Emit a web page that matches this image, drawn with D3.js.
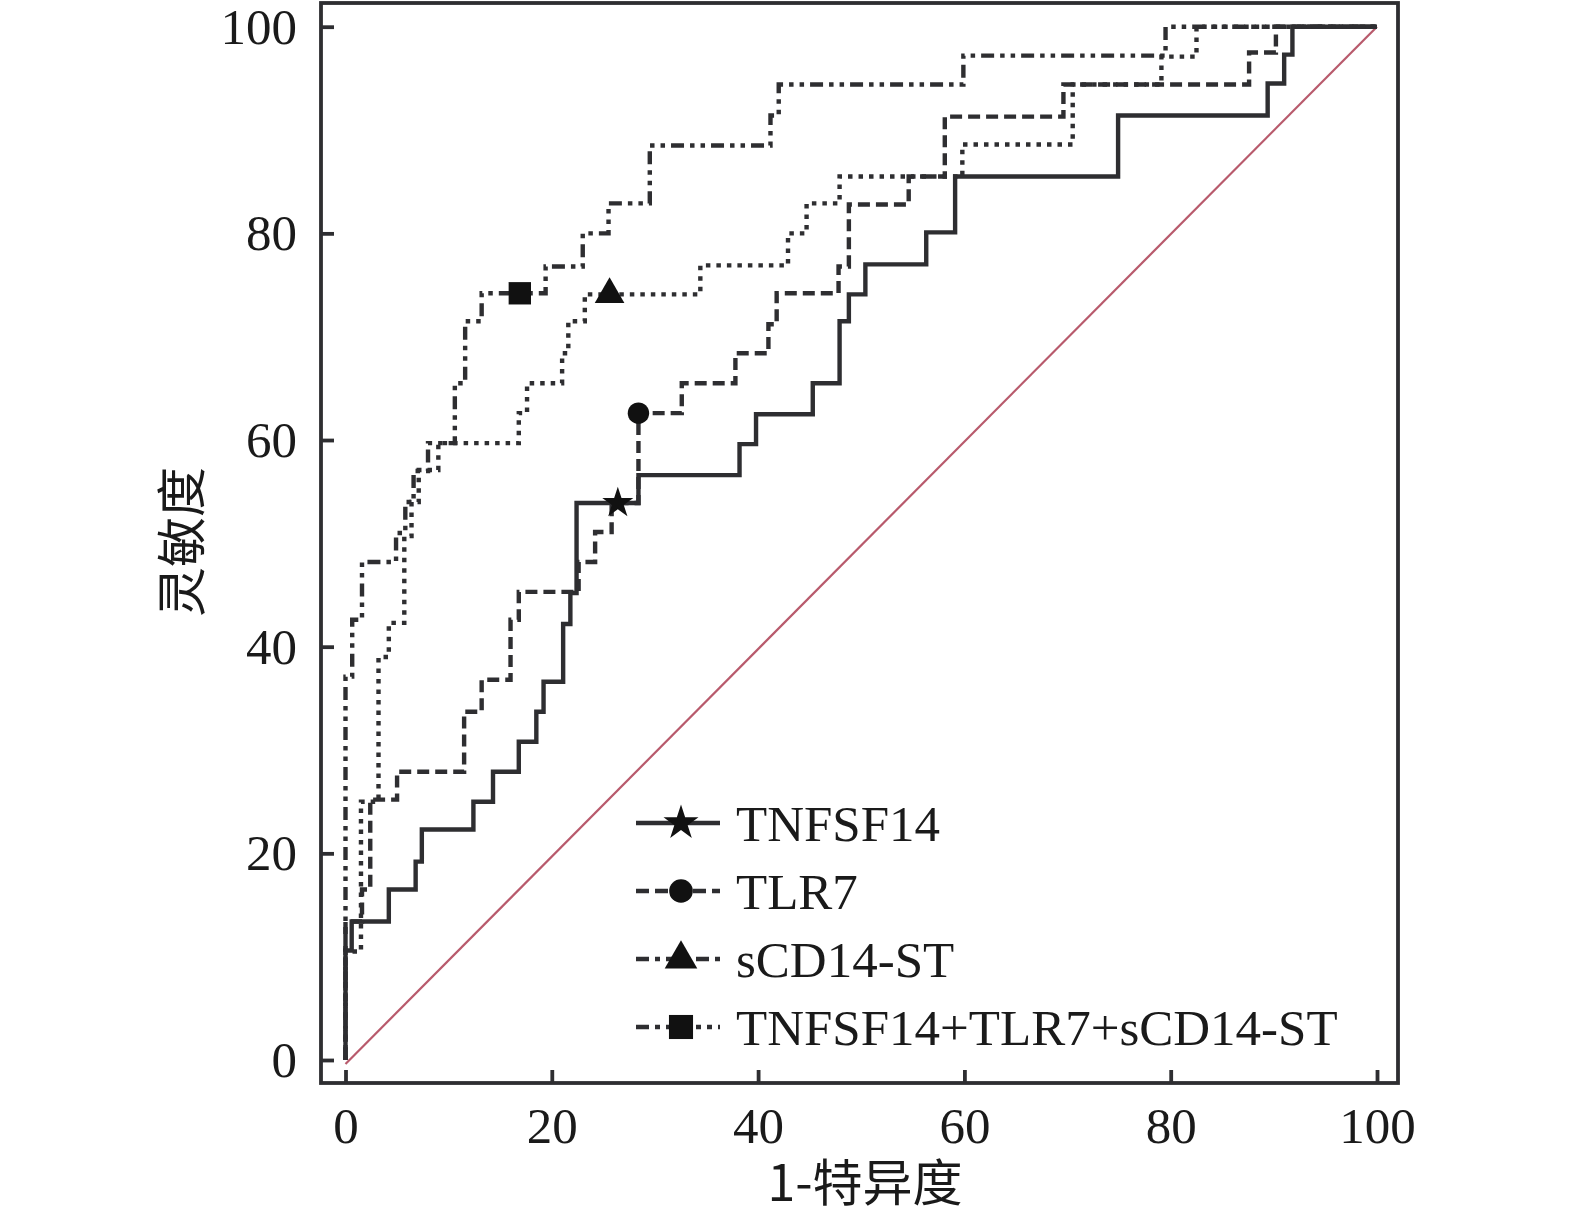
<!DOCTYPE html>
<html>
<head>
<meta charset="utf-8">
<script src="https://cdn.jsdelivr.net/npm/d3@7"></script>
<style>
  body { margin: 0; background: #fff; }
  svg { display: block; }
</style>
</head>
<body>
<div id="app"></div>
<script>
// ROC step curves: each point is the top of a vertical step (curveStepAfter)
const tickValues = [0, 20, 40, 60, 80, 100];
const seriesNames = ["TNFSF14", "TLR7", "sCD14-ST", "TNFSF14+TLR7+sCD14-ST"];

const tnfFpr = [0, 0, 0.6, 4.2, 6.8, 7.4, 12.4, 14.3, 16.8, 18.5, 19.2, 21.1, 21.8, 22.4, 28.4, 38.2, 39.8, 45.3, 47.9, 48.8, 50.4, 56.3, 59.1, 74.9, 89.4, 91.0, 91.8, 100];
const tnfTpr = [0, 10.6, 13.4, 16.5, 19.2, 22.3, 25.0, 27.9, 30.8, 33.7, 36.6, 42.2, 45.2, 53.9, 56.6, 59.6, 62.5, 65.5, 71.5, 74.1, 77.0, 80.1, 85.5, 91.4, 94.5, 97.3, 100, 100];

const tlrFpr = [0, 0, 1.6, 2.4, 5.0, 11.5, 13.2, 16.0, 16.8, 22.6, 24.2, 25.8, 28.4, 32.6, 37.8, 41.0, 41.8, 47.8, 48.8, 54.6, 58.1, 69.6, 87.6, 90.2, 100];
const tlrTpr = [0, 13.4, 16.5, 25.2, 27.9, 33.7, 36.8, 42.6, 45.3, 48.2, 51.1, 53.9, 62.6, 65.5, 68.4, 71.2, 74.2, 76.8, 82.8, 85.5, 91.3, 94.4, 97.5, 100, 100];

const scdFpr = [0, 0, 1.5, 3.2, 4.2, 5.7, 6.4, 7.1, 9.0, 16.8, 17.6, 21.0, 21.6, 23.2, 34.4, 42.9, 44.7, 47.9, 59.8, 70.5, 79.1, 82.5, 100];
const scdTpr = [0, 10.5, 25.0, 39.0, 42.3, 50.7, 54.0, 57.1, 59.7, 62.6, 65.5, 68.4, 71.5, 74.1, 76.9, 80.0, 82.9, 85.5, 88.6, 94.4, 97.1, 100, 100];

const comboFpr = [0, 0, 0.65, 1.6, 4.9, 5.8, 6.6, 8.0, 10.6, 11.6, 13.2, 19.4, 23.0, 25.5, 29.5, 41.2, 42.0, 59.9, 79.5, 100];
const comboTpr = [0, 37.1, 42.6, 48.2, 51.0, 54.0, 57.0, 59.7, 65.5, 71.5, 74.2, 76.8, 80.0, 82.9, 88.5, 91.4, 94.4, 97.2, 100, 100];

// optimal cut-off markers
const cutFpr = [26.4, 28.4, 25.6, 16.9];
const cutTpr = [53.9, 62.6, 74.1, 74.2];

const W = 1575, H = 1222;
const frame = { left: 321, right: 1398, top: 3, bottom: 1083 };
const font = "'Liberation Serif','Times New Roman',serif";
const ink = "#2e2e31";

const svg = d3.select("#app").append("svg")
  .attr("width", W).attr("height", H);

const x = d3.scaleLinear().domain([0, 100]).range([345.5, 1377]);
const y = d3.scaleLinear().domain([0, 100]).range([1060, 26.7]);

// diagonal reference
svg.append("line")
  .attr("x1", x(0)).attr("y1", y(0) + 4)
  .attr("x2", x(100)).attr("y2", y(100))
  .attr("stroke", "#b85a6c").attr("stroke-width", 2.2);

const styles = [
  { dash: null, legendDash: null, sym: d3.symbolStar, size: 300 },
  { dash: "12,6", legendDash: "13,6", sym: d3.symbolCircle, size: 360 },
  { dash: "4.5,6", legendDash: "13,6,5,6", sym: d3.symbolTriangle, size: 380 },
  { dash: "13,6,4.5,6,4.5,6", legendDash: "13,6,5,6,5,6", sym: d3.symbolSquare, size: 500 }
];

const series = [
  { fpr: tnfFpr, tpr: tnfTpr },
  { fpr: tlrFpr, tpr: tlrTpr },
  { fpr: scdFpr, tpr: scdTpr },
  { fpr: comboFpr, tpr: comboTpr }
];

const line = d3.line()
  .x(d => x(d[0]))
  .y(d => y(d[1]))
  .curve(d3.curveStepAfter);

series.forEach((s, i) => {
  const pts = s.fpr.map((v, j) => [v, s.tpr[j]]);
  svg.append("path")
    .attr("d", line(pts))
    .attr("fill", "none")
    .attr("stroke", ink)
    .attr("stroke-width", 4.4)
    .attr("stroke-dasharray", styles[i].dash);
});

// cut-off markers
series.forEach((s, i) => {
  svg.append("path")
    .attr("d", d3.symbol().type(styles[i].sym).size(styles[i].size)())
    .attr("transform", `translate(${x(cutFpr[i])},${y(cutTpr[i])})`)
    .attr("fill", "#111");
});

// frame
svg.append("rect")
  .attr("x", frame.left).attr("y", frame.top)
  .attr("width", frame.right - frame.left)
  .attr("height", frame.bottom - frame.top)
  .attr("fill", "none").attr("stroke", ink).attr("stroke-width", 3.8);

// axes with inward ticks
const gx = svg.append("g")
  .attr("transform", `translate(0,${frame.bottom})`)
  .call(d3.axisBottom(x).tickValues(tickValues).tickSize(-13).tickPadding(24));
const gy = svg.append("g")
  .attr("transform", `translate(${frame.left},0)`)
  .call(d3.axisLeft(y).tickValues(tickValues).tickSize(-13).tickPadding(24));

[gx, gy].forEach(g => {
  g.select(".domain").remove();
  g.selectAll(".tick line").attr("stroke", ink).attr("stroke-width", 3.8);
  g.selectAll(".tick text")
    .attr("fill", "#1a1a1a")
    .style("font-family", font)
    .style("font-size", "51px");
});

// axis titles
svg.append("text")
  .attr("x", 865).attr("y", 1201)
  .attr("text-anchor", "middle")
  .style("font-family", "'Noto Sans CJK SC', " + font)
  .style("font-size", "50px")
  .attr("fill", "#1a1a1a")
  .text("1-特异度");

svg.append("text")
  .attr("transform", "translate(200,542) rotate(-90)")
  .attr("text-anchor", "middle")
  .style("font-family", "'Noto Sans CJK SC', " + font)
  .style("font-size", "50px")
  .attr("fill", "#1a1a1a")
  .text("灵敏度");

// legend
const legend = svg.append("g").attr("transform", "translate(636,823)");
seriesNames.forEach((name, i) => {
  const row = legend.append("g").attr("transform", `translate(0,${i * 68})`);
  row.append("line")
    .attr("x1", 0).attr("x2", 84).attr("y1", 0).attr("y2", 0)
    .attr("stroke", ink).attr("stroke-width", 4.6)
    .attr("stroke-dasharray", styles[i].legendDash);
  row.append("path")
    .attr("d", d3.symbol().type(styles[i].sym).size(styles[i].size + 80)())
    .attr("transform", "translate(45,0)")
    .attr("fill", "#111");
  row.append("text")
    .attr("x", 100).attr("y", 0).attr("dy", "0.35em")
    .style("font-family", font)
    .style("font-size", "51px")
    .attr("fill", "#1a1a1a")
    .text(name);
});
</script>
</body>
</html>
